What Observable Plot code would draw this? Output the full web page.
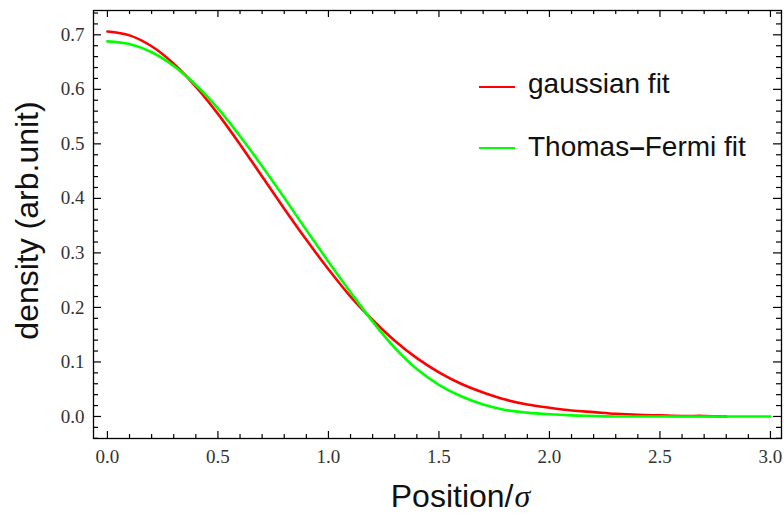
<!DOCTYPE html>
<html><head><meta charset="utf-8">
<script src="https://cdn.jsdelivr.net/npm/d3@7"></script>
<script src="https://cdn.jsdelivr.net/npm/@observablehq/plot@0.6"></script>
<style>
body{margin:0;background:#fff;}
#wrap{position:relative;width:784px;height:520px;}
.leg-line{position:absolute;height:2.6px;width:36px;left:479px;}
.leg-text{position:absolute;left:528px;font-family:"Liberation Sans",Arial,sans-serif;font-size:28px;line-height:28px;color:#111;white-space:nowrap;}
.leg-text b{font-weight:bold;}
</style></head><body><div id="wrap"></div>
<script>
// Data
const positions = [0.0,0.1,0.2,0.3,0.4,0.5,0.6,0.7,0.8,0.9,1.0,1.1,1.2,1.3,1.4,1.5,1.6,1.7,1.8,1.9,2.0,2.1,2.2,2.3,2.4,2.5,2.6,2.7,2.8,2.9,3.0];
const gaussianFit = [0.706,0.699,0.679,0.647,0.605,0.555,0.499,0.440,0.381,0.324,0.270,0.220,0.177,0.139,0.107,0.081,0.060,0.044,0.031,0.022,0.016,0.011,0.008,0.005,0.003,0.002,0.001,0.001,0.000,null,null];
const thomasFermiFit = [0.688,0.683,0.668,0.643,0.608,0.565,0.514,0.459,0.401,0.342,0.284,0.228,0.174,0.126,0.087,0.058,0.037,0.022,0.012,0.007,0.004,0.002,0.001,0.000,0.000,0.000,0.000,0.000,0.000,0.000,0.000];
const seriesNames = ["gaussian fit", "Thomas\u2013Fermi fit"];
const seriesColors = ["#ff0000", "#00ff00"];
const xTickLabels = [0.0,0.5,1.0,1.5,2.0,2.5,3.0];
const yTickLabels = [0.0,0.1,0.2,0.3,0.4,0.5,0.6,0.7];
const xAxisTitle = "Position/";
const xAxisSymbol = "\u03c3";
const yAxisTitle = "density (arb.unit)";

const xMinor = d3.range(0, 31).filter(i => i % 5 !== 0).map(i => i / 10);
const yMinor = d3.range(-2, 38).filter(i => i % 5 !== 0).map(i => i / 50);

const W = 784, H = 520, mL = 93, mR = 3, mT = 10, mB = 82;
const pw = W - mL - mR, ph = H - mT - mB;

const rowsFor = (vals) => positions.map((x, i) => ({x, y: vals[i]})).filter(d => d.y != null);

const tickStyle = {stroke: "#000", strokeWidth: 1.2};
const chart = Plot.plot({
  width: W, height: H,
  marginLeft: mL, marginRight: mR, marginTop: mT, marginBottom: mB,
  x: {domain: [-0.063, 3.05]},
  y: {domain: [-0.0404, 0.7446]},
  style: {background: "#fff", color: "#333", overflow: "visible"},
  marks: [
    Plot.line(rowsFor(gaussianFit), {x: "x", y: "y", stroke: seriesColors[0], strokeWidth: 2.6, curve: "catmull-rom"}),
    Plot.line(rowsFor(thomasFermiFit), {x: "x", y: "y", stroke: seriesColors[1], strokeWidth: 2.6, curve: "catmull-rom"}),
    Plot.frame({stroke: "#000", strokeWidth: 1.3}),
    Plot.ruleX(xTickLabels, {x: d => d, insetTop: ph - 7, ...tickStyle}),
    Plot.ruleX(xTickLabels, {x: d => d, insetBottom: ph - 7, ...tickStyle}),
    Plot.ruleX(xMinor, {x: d => d, insetTop: ph - 4, ...tickStyle}),
    Plot.ruleX(xMinor, {x: d => d, insetBottom: ph - 4, ...tickStyle}),
    Plot.ruleY(yTickLabels, {y: d => d, insetRight: pw - 8, ...tickStyle}),
    Plot.ruleY(yTickLabels, {y: d => d, insetLeft: pw - 8, ...tickStyle}),
    Plot.ruleY(yMinor, {y: d => d, insetRight: pw - 5, ...tickStyle}),
    Plot.ruleY(yMinor, {y: d => d, insetLeft: pw - 5, ...tickStyle}),
    Plot.axisX({ticks: xTickLabels, tickSize: 0, tickPadding: 11, tickFormat: d3.format(".1f"), label: null,
      fontSize: 19, fontFamily: "Liberation Serif, serif", fill: "#333"}),
    Plot.axisY({ticks: yTickLabels, tickSize: 0, tickPadding: 9, tickFormat: d3.format(".1f"), label: null,
      fontSize: 19, fontFamily: "Liberation Serif, serif", fill: "#333"}),
    Plot.text([yAxisTitle], {text: d => d, frameAnchor: "left", textAnchor: "middle", lineAnchor: "middle",
      dx: -66, dy: -4, rotate: -90,
      fontSize: 32, fontFamily: "Liberation Sans, Arial, sans-serif", fill: "#111"}),
    Plot.text([xAxisTitle], {text: d => d, frameAnchor: "bottom", textAnchor: "end", dx: 76, dy: 68,
      fontSize: 32, fontFamily: "Liberation Sans, Arial, sans-serif", fill: "#111"}),
    Plot.text([xAxisSymbol], {text: d => d, frameAnchor: "bottom", textAnchor: "start", dx: 77, dy: 68,
      fontSize: 32, fontStyle: "italic", fontFamily: "Liberation Serif, serif", fill: "#111"})
  ]
});
const wrap = document.getElementById("wrap");
wrap.appendChild(chart);

// Legend (HTML overlay)
const legendTops = [69.5, 132.5];
const legendLineTops = [85.5, 146.5];
seriesNames.forEach((name, i) => {
  const ln = document.createElement("div");
  ln.className = "leg-line";
  ln.style.top = legendLineTops[i] + "px";
  ln.style.background = seriesColors[i];
  wrap.appendChild(ln);
  const tx = document.createElement("div");
  tx.className = "leg-text";
  tx.style.top = legendTops[i] + "px";
  const parts = name.split("\u2013");
  parts.forEach((p, j) => {
    if (j > 0) { const b = document.createElement("b"); b.textContent = "\u2013"; tx.appendChild(b); }
    tx.appendChild(document.createTextNode(p));
  });
  wrap.appendChild(tx);
});
</script></body></html>
